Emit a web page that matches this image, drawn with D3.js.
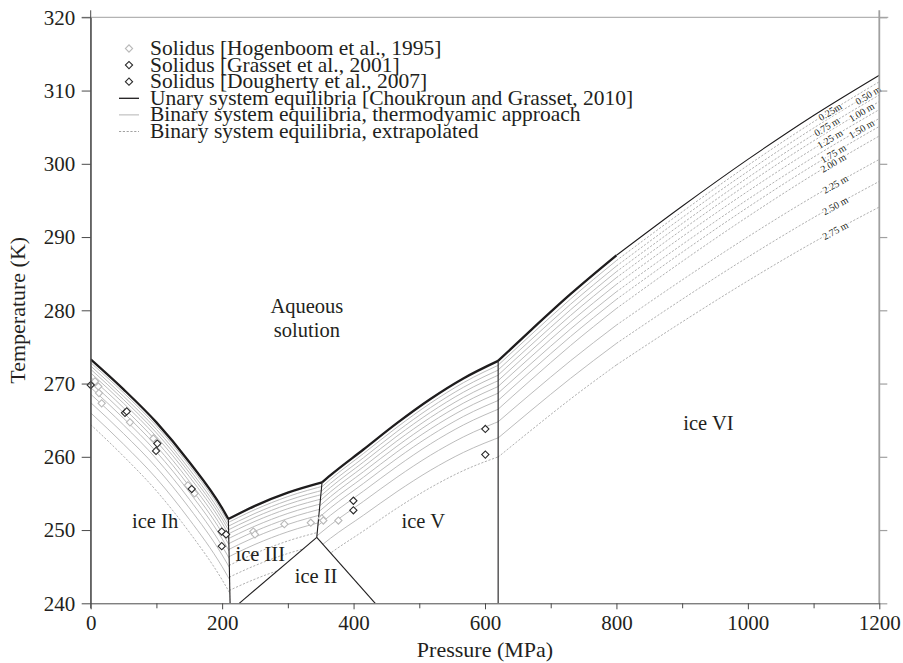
<!DOCTYPE html>
<html>
<head>
<meta charset="utf-8">
<script src="https://cdn.jsdelivr.net/npm/d3@7"></script>
<style>
  html, body { margin: 0; padding: 0; background: #fff; }
  svg { display: block; }
  text { font-family: "Liberation Serif", "DejaVu Serif", serif; fill: #231f20; }
</style>
</head>
<body>
<svg id="chart" width="903" height="663"></svg>
<script>
// ---- Phase diagram data: pressure in MPa, temperature in K ----

// Molalities of the binary-system liquidus curves and their labels
const molality = [0.25, 0.50, 0.75, 1.00, 1.25, 1.50, 1.75, 2.00, 2.25, 2.50, 2.75];
const molalityLabels = ["0.25m", "0.50 m", "0.75 m", "1.00 m", "1.25 m", "1.50 m",
                        "1.75 m", "2.00 m", "2.25 m", "2.50 m", "2.75 m"];
const labelPressure = [1125, 1183, 1120, 1173, 1125, 1173, 1130, 1130, 1133, 1133, 1133];

// Lowest molality drawn as extrapolated (dashed) in each ice field
const extrapolatedFrom = { Ih: 2.75, III: 2.25, V: 2.75, VI: 2.75, VIhigh: 0 };

// Unary (pure water) melting curves
const liquidusIh = [[0, 273.3], [50, 269.2], [100, 264.7], [150, 259.3], [200, 253.0], [209.5, 251.5]];
const liquidusIII = [[209.5, 251.5], [250, 253.3], [300, 255.1], [352, 256.5]];
const liquidusV = [[352, 256.5], [365, 257.5], [415, 261.0], [466, 264.6], [517, 267.9], [567, 270.7], [620, 273.1]];
const liquidusVI = [[620, 273.1], [670, 277.3], [730, 282.2], [800, 287.5]];
const liquidusVIhigh = [[800, 287.5], [900, 294.2], [1000, 300.6], [1100, 306.6], [1200, 312.1]];

// Solid-solid phase boundaries
const boundaryIhIII = [[209.5, 251.5], [212.1, 240]];
const boundaryIIIV = [[352, 256.5], [344, 249.0]];
const boundaryIIIII = [[344, 249.0], [226, 240]];
const boundaryIIV = [[344, 249.0], [433, 240]];
const boundaryVVI = [[620, 273.1], [620, 240]];

// Binary-system liquidus temperatures, one row per molality
const pIh = [0, 50, 100, 150, 200, 216];
const tIh = [
  [272.85, 268.74, 264.22, 258.81, 252.50, 250.00],
  [272.40, 268.27, 263.75, 258.32, 252.00, 249.50],
  [271.95, 267.81, 263.27, 257.84, 251.50, 249.00],
  [271.45, 267.30, 262.75, 257.30, 250.95, 248.45],
  [270.85, 266.69, 262.12, 256.66, 250.30, 247.80],
  [270.20, 266.02, 261.45, 255.97, 249.60, 247.10],
  [269.45, 265.26, 260.67, 255.19, 248.80, 246.30],
  [268.55, 264.34, 259.72, 254.21, 247.80, 245.30],
  [267.40, 263.17, 258.55, 253.02, 246.60, 244.10],
  [266.00, 261.72, 257.05, 251.47, 245.00, 242.50],
  [264.40, 260.07, 255.35, 249.72, 243.20, 240.70]
];
const pIII = [200, 250, 300, 360];
const tIII = [
  [250.60, 252.79, 254.57, 256.15],
  [250.10, 252.27, 254.04, 255.60],
  [249.60, 251.75, 253.51, 255.05],
  [249.05, 251.19, 252.92, 254.45],
  [248.40, 250.54, 252.27, 253.80],
  [247.70, 249.84, 251.57, 253.10],
  [246.90, 249.04, 250.77, 252.30],
  [245.90, 248.04, 249.77, 251.30],
  [244.70, 246.81, 248.51, 250.00],
  [243.10, 245.15, 246.80, 248.20],
  [241.30, 243.30, 244.90, 246.20]
];
const pV = [330, 365, 415, 466, 517, 567, 630];
const tV = [
  [254.15, 256.95, 260.44, 264.03, 267.32, 270.11, 272.90],
  [253.61, 256.39, 259.86, 263.44, 266.71, 269.48, 272.24],
  [253.07, 255.83, 259.28, 262.82, 266.06, 268.81, 271.54],
  [252.48, 255.23, 258.64, 262.16, 265.37, 268.09, 270.78],
  [251.84, 254.57, 257.96, 261.44, 264.63, 267.32, 269.98],
  [251.16, 253.86, 257.21, 260.66, 263.81, 266.46, 269.07],
  [250.37, 253.04, 256.36, 259.77, 262.88, 265.50, 268.06],
  [249.39, 252.03, 255.31, 258.68, 261.76, 264.34, 266.86],
  [248.12, 250.71, 253.91, 257.21, 260.21, 262.71, 265.14],
  [246.35, 248.89, 252.02, 255.24, 258.16, 260.59, 262.93],
  [244.39, 246.85, 249.87, 252.98, 255.79, 258.11, 260.30]
];
const pVI = [615, 670, 730, 800];
const tVI = [
  [272.10, 276.66, 281.53, 286.79],
  [271.45, 275.98, 280.81, 286.04],
  [270.75, 275.26, 280.06, 285.27],
  [270.00, 274.49, 279.28, 284.46],
  [269.20, 273.66, 278.40, 283.54],
  [268.30, 272.72, 277.43, 282.53],
  [267.30, 271.71, 276.40, 281.49],
  [266.10, 270.50, 275.18, 280.25],
  [264.40, 268.62, 273.10, 277.98],
  [262.20, 266.32, 270.70, 275.48],
  [259.60, 263.61, 267.88, 272.54]
];
const pVIhigh = [800, 900, 1000, 1100, 1200];
const tVIhigh = [
  [286.79, 293.44, 299.79, 305.74, 311.20],
  [286.04, 292.65, 298.96, 304.88, 310.30],
  [285.27, 291.84, 298.12, 304.00, 309.40],
  [284.46, 291.00, 297.26, 303.13, 308.50],
  [283.54, 290.04, 296.25, 302.07, 307.40],
  [282.53, 288.98, 295.14, 300.91, 306.20],
  [281.49, 287.92, 294.06, 299.82, 305.10],
  [280.25, 286.67, 292.79, 298.54, 303.80],
  [277.98, 284.14, 290.03, 295.55, 300.60],
  [275.48, 281.50, 287.26, 292.66, 297.60],
  [272.54, 278.41, 284.02, 289.29, 294.10]
];

// Solidus measurements
const hogenboom1995 = [[6.5, 270.3], [11.6, 269.6], [12.6, 268.7], [16.7, 267.3], [59.8, 264.7],
  [95.3, 262.5], [148, 256.1], [158, 255.0], [247.5, 249.8], [250, 249.4], [294.7, 250.8],
  [334.9, 251.0], [351.6, 251.6], [354, 251.3], [376.9, 251.3]];
const grasset2001 = [[0, 269.8], [52.2, 266.0], [54.8, 266.2], [101.4, 261.8], [99.4, 260.8],
  [153.7, 255.6], [199.4, 249.8], [206, 249.4], [199.4, 247.8], [399.7, 254.0], [399.7, 252.7]];
const dougherty2007 = [[600.5, 263.8], [600.5, 260.3]];

// Axis ticks
const tempTicks = [240, 250, 260, 270, 280, 290, 300, 310, 320];
const pressTicks = [0, 200, 400, 600, 800, 1000, 1200];
const pressMinorTicks = [100, 300, 500, 700, 900, 1100];

// Field labels
const fieldLabels = [
  { text: "Aqueous", p: 329, t: 280.6 },
  { text: "solution", p: 329, t: 277.4 },
  { text: "ice Ih", p: 98, t: 251.2 },
  { text: "ice III", p: 258, t: 246.7 },
  { text: "ice II", p: 343, t: 243.7 },
  { text: "ice V", p: 506, t: 251.2 },
  { text: "ice VI", p: 940, t: 264.6 }
];

const legendItems = [
  { label: "Solidus [Hogenboom et al., 1995]", kind: "hog" },
  { label: "Solidus [Grasset et al., 2001]", kind: "dark" },
  { label: "Solidus [Dougherty et al., 2007]", kind: "dark" },
  { label: "Unary system equilibria [Choukroun and Grasset, 2010]", kind: "unary" },
  { label: "Binary system equilibria, thermodyamic approach", kind: "binary" },
  { label: "Binary system equilibria, extrapolated", kind: "extrap" }
];

// ---- Drawing ----
const svg = d3.select("#chart");
const x = d3.scaleLinear().domain([0, 1200]).range([90.7, 879.3]);
const y = d3.scaleLinear().domain([240, 320]).range([603.3, 17.3]);

const curve = d3.line().x(d => x(d[0])).y(d => y(d[1])).curve(d3.curveMonotoneX);
const straight = d3.line().x(d => x(d[0])).y(d => y(d[1]));

const GRAY = "#b4b4b4", DASHGRAY = "#a2a2a2", INK = "#1e1c1d", AXIS = "#4a4a4a", FRAME = "#a0a0a0";

// Clip regions for each ice field, built from the phase boundaries
const defs = svg.append("defs");
const fields = {
  Ih: [[-20, 330], [boundaryIhIII[0][0], 330], boundaryIhIII[0], boundaryIhIII[1], [-20, 240]],
  III: [[liquidusIII[0][0], 330], [boundaryIIIV[0][0], 330], boundaryIIIV[0], boundaryIIIV[1],
        boundaryIIIII[1], boundaryIhIII[1], boundaryIhIII[0]],
  V: [[boundaryIIIV[0][0], 330], [boundaryVVI[0][0], 330], boundaryVVI[1], boundaryIIV[1],
      boundaryIIV[0], boundaryIIIV[0]],
  VI: [[boundaryVVI[0][0], 330], [1200, 330], [1200, 240], boundaryVVI[1]]
};
Object.entries(fields).forEach(([key, poly]) => {
  defs.append("clipPath").attr("id", "field-" + key)
    .append("path").attr("d", straight(poly) + "Z");
});
defs.append("clipPath").attr("id", "plot-area")
  .append("rect").attr("x", x(0)).attr("y", y(320))
  .attr("width", x(1200) - x(0)).attr("height", y(240) - y(320));

const plot = svg.append("g").attr("clip-path", "url(#plot-area)");

function drawBinary(pArr, tTable, clipKey, threshold) {
  const g = plot.append("g").attr("clip-path", "url(#field-" + clipKey + ")");
  tTable.forEach((temps, i) => {
    const pts = pArr.map((p, j) => [p, temps[j]]);
    const dashed = molality[i] >= threshold;
    g.append("path").datum(pts).attr("d", curve)
      .attr("fill", "none")
      .attr("stroke", dashed ? DASHGRAY : GRAY)
      .attr("stroke-width", dashed ? 0.85 : 0.9)
      .attr("stroke-dasharray", dashed ? "2.2,1.6" : null);
  });
}
drawBinary(pIh, tIh, "Ih", extrapolatedFrom.Ih);
drawBinary(pIII, tIII, "III", extrapolatedFrom.III);
drawBinary(pV, tV, "V", extrapolatedFrom.V);
drawBinary(pVI, tVI, "VI", extrapolatedFrom.VI);
drawBinary(pVIhigh, tVIhigh, "VI", extrapolatedFrom.VIhigh);

// Solid-solid boundaries
[boundaryIhIII, boundaryIIIV, boundaryIIIII, boundaryIIV, boundaryVVI].forEach(b => {
  plot.append("path").datum(b).attr("d", straight)
    .attr("fill", "none").attr("stroke", INK).attr("stroke-width", 1.1);
});

// Pure-water melting curves
[liquidusIh, liquidusIII, liquidusV, liquidusVI].forEach(l => {
  plot.append("path").datum(l).attr("d", curve)
    .attr("fill", "none").attr("stroke", INK).attr("stroke-width", 2.3)
    .attr("stroke-linejoin", "round");
});
plot.append("path").datum(liquidusVIhigh).attr("d", curve)
  .attr("fill", "none").attr("stroke", INK).attr("stroke-width", 1.1);

// Molality labels along the extrapolated ice VI curves
const labelsG = svg.append("g");
tVIhigh.forEach((temps, i) => {
  const tAt = d3.scaleLinear().domain(pVIhigh).range(temps);
  const p = labelPressure[i];
  const px = x(p), py = y(tAt(p));
  const ang = Math.atan2(y(tAt(p + 10)) - y(tAt(p - 10)), x(p + 10) - x(p - 10)) * 180 / Math.PI;
  labelsG.append("text")
    .attr("transform", `translate(${px},${py}) rotate(${ang})`)
    .attr("text-anchor", "middle").attr("dy", "0.35em")
    .attr("font-size", 10)
    .attr("stroke", "#fff").attr("stroke-width", 2.6).attr("paint-order", "stroke")
    .text(molalityLabels[i]);
});

// Solidus points
const diamond = d3.symbol().type(d3.symbolSquare).size(26);
function drawPoints(data, color) {
  svg.append("g").selectAll("path").data(data).join("path")
    .attr("d", diamond)
    .attr("transform", d => `translate(${x(d[0])},${y(d[1])}) rotate(45)`)
    .attr("fill", "#fff").attr("stroke", color).attr("stroke-width", 1.1);
}
drawPoints(hogenboom1995, "#b9b9b9");
drawPoints(grasset2001, "#2b2b2b");
drawPoints(dougherty2007, "#2b2b2b");

// Field labels
svg.append("g").selectAll("text").data(fieldLabels).join("text")
  .attr("x", d => x(d.p)).attr("y", d => y(d.t))
  .attr("text-anchor", "middle").attr("dy", "0.35em")
  .attr("font-size", 20.5)
  .text(d => d.text);

// ---- Axes and frame ----
svg.append("line").attr("x1", x(0) - 9).attr("x2", x(1200) + 9)
  .attr("y1", y(320)).attr("y2", y(320)).attr("stroke", FRAME).attr("stroke-width", 1);
svg.append("line").attr("x1", x(1200)).attr("x2", x(1200))
  .attr("y1", y(320) - 7).attr("y2", y(240)).attr("stroke", FRAME).attr("stroke-width", 1.8);

const rightAxis = svg.append("g").attr("transform", `translate(${x(1200)},0)`)
  .call(d3.axisRight(y).tickValues(tempTicks).tickSize(8).tickSizeOuter(0).tickFormat(""));
rightAxis.select(".domain").remove();
rightAxis.selectAll("line").attr("stroke", FRAME).attr("stroke-width", 1.2);

const leftAxis = svg.append("g").attr("transform", `translate(${x(0)},0)`)
  .call(d3.axisLeft(y).tickValues(tempTicks).tickSize(9).tickSizeOuter(0).tickPadding(6.5)
    .tickFormat(d3.format("d")));
leftAxis.select(".domain").attr("stroke", AXIS);
leftAxis.selectAll("line").attr("stroke", AXIS);
leftAxis.selectAll("text").attr("font-size", 21).attr("font-family", null).attr("fill", "#231f20");
svg.append("line").attr("x1", x(0)).attr("x2", x(0))
  .attr("y1", y(320) - 7).attr("y2", y(240) + 5).attr("stroke", AXIS);

const bottomAxis = svg.append("g").attr("transform", `translate(0,${y(240)})`)
  .call(d3.axisBottom(x).tickValues(pressTicks).tickSize(6).tickSizeOuter(0).tickPadding(5.5)
    .tickFormat(d3.format("d")));
bottomAxis.select(".domain").attr("stroke", AXIS);
bottomAxis.selectAll("line").attr("stroke", AXIS);
bottomAxis.selectAll("text").attr("font-size", 21).attr("font-family", null).attr("fill", "#231f20");
svg.append("g").attr("transform", `translate(0,${y(240)})`)
  .call(d3.axisBottom(x).tickValues(pressMinorTicks).tickSize(5).tickFormat(""))
  .call(g => g.select(".domain").remove())
  .selectAll("line").attr("stroke", AXIS);

svg.append("text").attr("x", (x(0) + x(1200)) / 2).attr("y", 657)
  .attr("text-anchor", "middle").attr("font-size", 22).text("Pressure (MPa)");
svg.append("text").attr("transform", `translate(25,${(y(240) + y(320)) / 2}) rotate(-90)`)
  .attr("text-anchor", "middle").attr("font-size", 22).text("Temperature (K)");

// ---- Legend ----
const legend = svg.append("g");
legendItems.forEach((item, i) => {
  const by = 55 + i * 16.6;
  const cy = by - 6.5;
  if (item.kind === "hog" || item.kind === "dark") {
    legend.append("path").attr("d", diamond)
      .attr("transform", `translate(129,${cy}) rotate(45)`)
      .attr("fill", "#fff").attr("stroke", item.kind === "hog" ? "#b9b9b9" : "#2b2b2b")
      .attr("stroke-width", 1.1);
  } else {
    legend.append("line").attr("x1", 119).attr("x2", 139).attr("y1", cy).attr("y2", cy)
      .attr("stroke", item.kind === "unary" ? INK : (item.kind === "binary" ? GRAY : DASHGRAY))
      .attr("stroke-width", item.kind === "unary" ? 1.3 : 1)
      .attr("stroke-dasharray", item.kind === "extrap" ? "2.2,1.6" : null);
  }
  legend.append("text").attr("x", 150).attr("y", by).attr("font-size", 21.5).text(item.label);
});
</script>
</body>
</html>
